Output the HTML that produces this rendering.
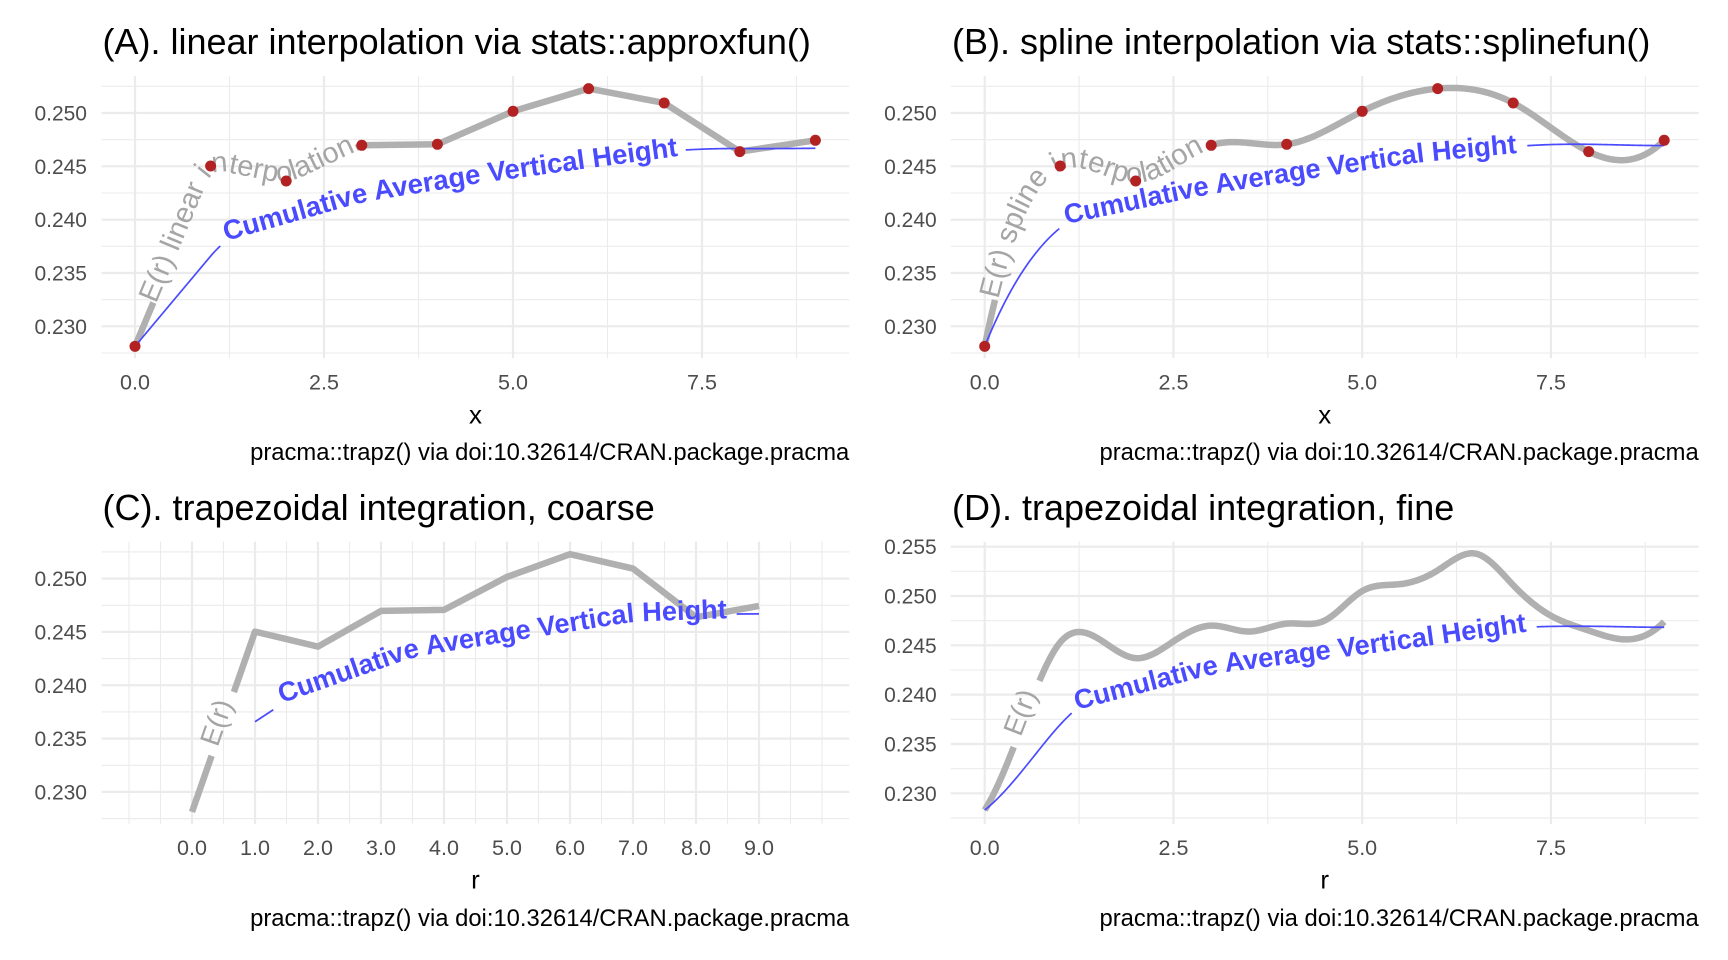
<!DOCTYPE html>
<html>
<head>
<meta charset="utf-8">
<style>
html,body{margin:0;padding:0;background:#ffffff;}
svg{display:block;}
svg text{font-family:"Liberation Sans", Arial, sans-serif;}
</style>
</head>
<body>
<svg id="s" width="1728" height="960" viewBox="0 0 1728 960" xmlns="http://www.w3.org/2000/svg" xmlns:xlink="http://www.w3.org/1999/xlink">
<rect x="0" y="0" width="1728" height="960" fill="#ffffff"/>
<defs>
  <path id="tpA1" d="M0 0 L1 0"/>
  <path id="tpA2" d="M0 0 L1 0"/>
  <path id="tpB1" d="M0 0 L1 0"/>
  <path id="tpB2" d="M0 0 L1 0"/>
  <path id="tpC1" d="M0 0 L1 0"/>
  <path id="tpC2" d="M0 0 L1 0"/>
  <path id="tpD1" d="M0 0 L1 0"/>
  <path id="tpD2" d="M0 0 L1 0"/>
</defs>
<g id="grid"></g>
<g id="lines"></g>
<g id="ptext">
  <text id="tA1" fill="#a5a5a5" font-size="28"><textPath href="#tpA1" xlink:href="#tpA1" startOffset="0">E(r) linear interpolation</textPath></text>
  <text id="tA2" fill="#4a4aff" font-weight="bold" font-size="27"><textPath href="#tpA2" xlink:href="#tpA2" startOffset="0">Cumulative Average Vertical Height</textPath></text>
  <text id="tB1" fill="#a5a5a5" font-size="28"><textPath href="#tpB1" xlink:href="#tpB1" startOffset="0">E(r) spline interpolation</textPath></text>
  <text id="tB2" fill="#4a4aff" font-weight="bold" font-size="27"><textPath href="#tpB2" xlink:href="#tpB2" startOffset="0">Cumulative Average Vertical Height</textPath></text>
  <text id="tC1" fill="#a5a5a5" font-size="28"><textPath href="#tpC1" xlink:href="#tpC1" startOffset="0">E(r)</textPath></text>
  <text id="tC2" fill="#4a4aff" font-weight="bold" font-size="27"><textPath href="#tpC2" xlink:href="#tpC2" startOffset="0">Cumulative Average Vertical Height</textPath></text>
  <text id="tD1" fill="#a5a5a5" font-size="28"><textPath href="#tpD1" xlink:href="#tpD1" startOffset="0">E(r)</textPath></text>
  <text id="tD2" fill="#4a4aff" font-weight="bold" font-size="27"><textPath href="#tpD2" xlink:href="#tpD2" startOffset="0">Cumulative Average Vertical Height</textPath></text>
</g>
<g id="pts"></g>

<!-- Titles -->
<g fill="#000000" font-size="36">
  <text x="102.5" y="54">(A). linear interpolation via stats::approxfun()</text>
  <text x="952" y="54">(B). spline interpolation via stats::splinefun()</text>
  <text x="102.5" y="520">(C). trapezoidal integration, coarse</text>
  <text x="952" y="520">(D). trapezoidal integration, fine</text>
</g>

<!-- Y tick labels -->
<g fill="#4d4d4d" font-size="21" text-anchor="end">
  <text x="87" y="120.5">0.250</text>
  <text x="87" y="173.8">0.245</text>
  <text x="87" y="227.2">0.240</text>
  <text x="87" y="280.5">0.235</text>
  <text x="87" y="333.8">0.230</text>

  <text x="936.7" y="120.5">0.250</text>
  <text x="936.7" y="173.8">0.245</text>
  <text x="936.7" y="227.2">0.240</text>
  <text x="936.7" y="280.5">0.235</text>
  <text x="936.7" y="333.8">0.230</text>

  <text x="87" y="586.1">0.250</text>
  <text x="87" y="639.4">0.245</text>
  <text x="87" y="692.8">0.240</text>
  <text x="87" y="746.1">0.235</text>
  <text x="87" y="799.4">0.230</text>

  <text x="936.7" y="554.2">0.255</text>
  <text x="936.7" y="603.5">0.250</text>
  <text x="936.7" y="652.8">0.245</text>
  <text x="936.7" y="702.2">0.240</text>
  <text x="936.7" y="751.5">0.235</text>
  <text x="936.7" y="800.8">0.230</text>
</g>

<!-- X tick labels -->
<g fill="#4d4d4d" font-size="21.5" text-anchor="middle">
  <text x="135" y="389.4">0.0</text>
  <text x="324" y="389.4">2.5</text>
  <text x="513" y="389.4">5.0</text>
  <text x="702" y="389.4">7.5</text>

  <text x="984.7" y="389.4">0.0</text>
  <text x="1173.5" y="389.4">2.5</text>
  <text x="1362.2" y="389.4">5.0</text>
  <text x="1551" y="389.4">7.5</text>

  <text x="192" y="855">0.0</text>
  <text x="255" y="855">1.0</text>
  <text x="318" y="855">2.0</text>
  <text x="381" y="855">3.0</text>
  <text x="444" y="855">4.0</text>
  <text x="507" y="855">5.0</text>
  <text x="570" y="855">6.0</text>
  <text x="633" y="855">7.0</text>
  <text x="696" y="855">8.0</text>
  <text x="759" y="855">9.0</text>

  <text x="984.7" y="855">0.0</text>
  <text x="1173.5" y="855">2.5</text>
  <text x="1362.2" y="855">5.0</text>
  <text x="1551" y="855">7.5</text>
</g>

<!-- Axis titles -->
<g fill="#000000" font-size="26" text-anchor="middle">
  <text x="475.5" y="423.3">x</text>
  <text x="1324.7" y="423.3">x</text>
  <text x="475.5" y="888.5">r</text>
  <text x="1324.7" y="888.5">r</text>
</g>

<!-- Captions -->
<g fill="#000000" font-size="23.8" text-anchor="end">
  <text x="849.3" y="460">pracma::trapz() via doi:10.32614/CRAN.package.pracma</text>
  <text x="1698.7" y="460">pracma::trapz() via doi:10.32614/CRAN.package.pracma</text>
  <text x="849.3" y="926">pracma::trapz() via doi:10.32614/CRAN.package.pracma</text>
  <text x="1698.7" y="926">pracma::trapz() via doi:10.32614/CRAN.package.pracma</text>
</g>
</svg>

<script>
(function(){
const NS='http://www.w3.org/2000/svg';
const svg=document.getElementById('s');
function el(tag,a,par){const e=document.createElementNS(NS,tag);for(const k in a)e.setAttribute(k,a[k]);(par||svg).appendChild(e);return e;}
const GRAY='#b0b0b0', BLUE='#4a4aff', RED='#b22222';

const A={x0:101.7,x1:849.3,y0:76,y1:358.3,X:v=>135+75.6*v,Y:v=>113+(0.25-v)*10666.7};
const B={x0:950.7,x1:1698.7,y0:76,y1:358.3,X:v=>984.7+75.5*v,Y:v=>113+(0.25-v)*10666.7};
const C={x0:101.7,x1:849.3,y0:541.7,y1:824,X:v=>192+63*v,Y:v=>578.6+(0.25-v)*10666.7};
const D={x0:950.7,x1:1698.7,y0:541.7,y1:824,X:v=>984.7+75.5*v,Y:v=>596+(0.25-v)*9866};

/* ---------- grid ---------- */
const gG=document.getElementById('grid');
function gl(x1,y1,x2,y2,w){el('line',{x1:x1,y1:y1,x2:x2,y2:y2,stroke:'#ebebeb','stroke-width':w},gG);}
function grid(P,hMaj,hMin,vMaj,vMin){
  hMin.forEach(v=>gl(P.x0,P.Y(v),P.x1,P.Y(v),1.1));
  vMin.forEach(v=>gl(P.X(v),P.y0,P.X(v),P.y1,1.1));
  hMaj.forEach(v=>gl(P.x0,P.Y(v),P.x1,P.Y(v),2.2));
  vMaj.forEach(v=>gl(P.X(v),P.y0,P.X(v),P.y1,2.2));
}
const hMaj=[0.23,0.235,0.24,0.245,0.25], hMin=[0.2275,0.2325,0.2375,0.2425,0.2475,0.2525];
const vMaj=[0,2.5,5,7.5], vMin=[1.25,3.75,6.25,8.75];
grid(A,hMaj,hMin,vMaj,vMin);
grid(B,hMaj,hMin,vMaj,vMin);
const cMaj=[],cMin=[-1,10];
for(let i=0;i<=9;i++){cMaj.push(i);}
for(let i=-1;i<=9;i++){cMin.push(i+0.5);}
grid(C,hMaj,hMin,cMaj,cMin);
grid(D,[0.23,0.235,0.24,0.245,0.25,0.255],hMin,vMaj,vMin);

/* ---------- spline (R fmm) ---------- */
function fmm(x,y){
  const n=x.length,nm1=n-1;
  const b=new Array(n).fill(0),c=new Array(n).fill(0),d=new Array(n).fill(0);
  d[0]=x[1]-x[0];
  c[1]=(y[1]-y[0])/d[0];
  for(let i=1;i<nm1;i++){
    d[i]=x[i+1]-x[i];
    b[i]=2*(d[i-1]+d[i]);
    c[i+1]=(y[i+1]-y[i])/d[i];
    c[i]=c[i+1]-c[i];
  }
  b[0]=-d[0]; b[nm1]=-d[n-2]; c[0]=0; c[nm1]=0;
  if(n>3){
    c[0]=c[2]/(x[3]-x[1])-c[1]/(x[2]-x[0]);
    c[nm1]=c[n-2]/(x[nm1]-x[n-3])-c[n-3]/(x[n-2]-x[n-4]);
    c[0]=c[0]*d[0]*d[0]/(x[3]-x[0]);
    c[nm1]=-c[nm1]*d[n-2]*d[n-2]/(x[nm1]-x[n-4]);
  }
  for(let i=1;i<n;i++){
    const t=d[i-1]/b[i-1];
    b[i]=b[i]-t*d[i-1];
    c[i]=c[i]-t*c[i-1];
  }
  c[nm1]=c[nm1]/b[nm1];
  for(let i=n-2;i>=0;i--) c[i]=(c[i]-d[i]*c[i+1])/b[i];
  b[nm1]=(y[nm1]-y[n-2])/d[n-2]+d[n-2]*(c[n-2]+2*c[nm1]);
  for(let i=0;i<nm1;i++){
    b[i]=(y[i+1]-y[i])/d[i]-d[i]*(c[i+1]+2*c[i]);
    d[i]=(c[i+1]-c[i])/d[i];
    c[i]=3*c[i];
  }
  c[nm1]=3*c[nm1]; d[nm1]=d[n-2];
  return function(u){
    let i=0; while(i<n-1 && u>=x[i+1]) i++;
    if(i>n-2) i=n-2;
    const dx=u-x[i];
    return y[i]+dx*(b[i]+dx*(c[i]+dx*d[i]));
  };
}

/* ---------- geometry helpers ---------- */
function cum(poly){const s=[0];for(let i=1;i<poly.length;i++){s.push(s[i-1]+Math.hypot(poly[i][0]-poly[i-1][0],poly[i][1]-poly[i-1][1]));}return s;}
function at(poly,S,s){
  const L=S[S.length-1];
  if(s<=0) return poly[0].slice();
  if(s>=L) return poly[poly.length-1].slice();
  let i=1; while(S[i]<s) i++;
  const den=(S[i]-S[i-1])||1;
  const t=(s-S[i-1])/den;
  return [poly[i-1][0]+t*(poly[i][0]-poly[i-1][0]),poly[i-1][1]+t*(poly[i][1]-poly[i-1][1])];
}
function atX(poly,S,s){
  const L=S[S.length-1],n=poly.length;
  if(s<0){let j=1;while(j<n-1&&S[j]<1)j++;const a=poly[0],b=poly[j],l=S[j]||1;return [a[0]+(b[0]-a[0])*s/l,a[1]+(b[1]-a[1])*s/l];}
  if(s>L){let j=n-2;while(j>0&&L-S[j]<1)j--;const a=poly[j],b=poly[n-1],l=(L-S[j])||1;return [b[0]+(b[0]-a[0])*(s-L)/l,b[1]+(b[1]-a[1])*(s-L)/l];}
  return at(poly,S,s);
}
function sub(poly,S,s1,s2){
  const out=[at(poly,S,s1)];
  for(let i=0;i<poly.length;i++){if(S[i]>s1&&S[i]<s2) out.push(poly[i]);}
  out.push(at(poly,S,s2));
  return out;
}
function nearestS(poly,S,pt){
  let best=1e9,bs=0;const L=S[S.length-1];
  for(let s=0;s<=L;s+=0.5){const p=at(poly,S,s);const d=Math.hypot(p[0]-pt[0],p[1]-pt[1]);if(d<best){best=d;bs=s;}}
  return bs;
}
function smooth(pts,k){
  const out=[];const n=pts.length;
  for(let i=0;i<n;i++){
    const kk=Math.min(k,i,n-1-i);
    let sx=0,sy=0,m=0;
    for(let j=i-kk;j<=i+kk;j++){sx+=pts[j][0];sy+=pts[j][1];m++;}
    out.push([sx/m,sy/m]);
  }
  return out;
}
function offset(pts,d){
  return pts.map((p,i)=>{
    const a=pts[Math.max(0,i-1)],b=pts[Math.min(pts.length-1,i+1)];
    const dx=b[0]-a[0],dy=b[1]-a[1];const l=Math.hypot(dx,dy)||1;
    return [p[0]-dy/l*d,p[1]+dx/l*d];
  });
}
function pathD(pts){return 'M'+pts.map(p=>p[0].toFixed(2)+' '+p[1].toFixed(2)).join(' L');}
function clipX(poly,xa,xb){
  const out=[];
  for(let i=0;i<poly.length;i++){
    const p=poly[i];
    if(i>0){const q=poly[i-1];
      [xa,xb].forEach(xc=>{if(q[0]<xc&&p[0]>xc){const t=(xc-q[0])/(p[0]-q[0]);out.push([xc,q[1]+t*(p[1]-q[1])]);}});
    }
    if(p[0]>=xa&&p[0]<=xb) out.push(p);
  }
  return out;
}
function measure(str,fs,weight){
  const t=el('text',{x:0,y:-200,'font-size':fs,'font-weight':weight||'normal'});
  t.textContent=str;const w=t.getComputedTextLength();svg.removeChild(t);return w;
}

const gL=document.getElementById('lines');
function drawPoly(pts,stroke,w){
  if(pts.length<2) return;
  el('path',{d:pathD(pts),fill:'none',stroke:stroke,'stroke-width':w,'stroke-linejoin':'round','stroke-linecap':'butt'},gL);
}

function grayWithText(poly,sp,ep,tid,pid,o){
  const S=cum(poly),L=S[S.length-1];
  const s1=nearestS(poly,S,sp),s2=nearestS(poly,S,ep);
  drawPoly(sub(poly,S,0,s1),GRAY,6.5);
  drawPoly(sub(poly,S,s2,L),GRAY,6.5);
  const ext=30;
  let pts=[];
  for(let s=s1-ext;s<=s2+ext;s+=2) pts.push(atX(poly,S,s));
  pts=smooth(pts,o.k||8);
  pts=offset(pts,o.off==null?3:o.off);
  const p=document.getElementById(pid);p.setAttribute('d',pathD(pts));
  const t=document.getElementById(tid),tp=t.querySelector('textPath');
  const w100=measure(tp.textContent,100,'normal');
  let fs=(s2-s1-2*o.pad)/(w100/100);fs=Math.max(o.min,Math.min(o.max,fs));
  t.setAttribute('font-size',fs.toFixed(2));
  const tl=w100*fs/100;
  let plen=(s2-s1+2*ext);
  try{plen=p.getTotalLength();}catch(e){}
  const scale=plen/(s2-s1+2*ext);
  const mid=(ext+(s2-s1)/2)*scale;
  tp.setAttribute('startOffset',(mid-tl/2).toFixed(2));
}

function handText(pin,tid,pid){
  const S=cum(pin),L=S[S.length-1],ext=20;
  let pts=[];
  for(let s=-ext;s<=L+ext;s+=2) pts.push(atX(pin,S,s));
  pts=smooth(pts,8);
  const p=document.getElementById(pid);p.setAttribute('d',pathD(pts));
  const t=document.getElementById(tid),tp=t.querySelector('textPath');
  const w100=measure(tp.textContent,100,'bold');
  const fs=L/(w100/100);
  t.setAttribute('font-size',fs.toFixed(2));
  tp.setAttribute('startOffset',ext.toFixed(1));
}

function dense(f,P,h){const pts=[];const N=Math.round(9/h);for(let k=0;k<=N;k++){const u=k*h;pts.push([P.X(u),P.Y(f(u))]);}return pts;}
function cumavgPts(f,P){
  const pts=[[P.X(0),P.Y(f(0))]];let I=0;const h=0.002;const N=Math.round(9/h);
  for(let k=1;k<=N;k++){const r0=(k-1)*h,r1=k*h;I+=(f(r0)+f(r1))/2*h;if(k%10===0) pts.push([P.X(r1),P.Y(I/r1)]);}
  return pts;
}

/* ---------- data ---------- */
const xs=[0,1,2,3,4,5,6,7,8,9];
const ys=[0.228126,0.245031,0.243625,0.246972,0.247065,0.250159,0.252288,0.250938,0.246381,0.247440];
function lin(u){let i=Math.min(8,Math.max(0,Math.floor(u)));const t=u-i;return ys[i]+t*(ys[i+1]-ys[i]);}
const spl=fmm(xs,ys);
const fx=[],fy=[0.2283,0.2370,0.2453,0.2457,0.2437,0.2454,0.2470,0.2464,0.2472,0.2475,0.2505,0.2512,0.2526,0.2543,0.2511,0.2480,0.2465,0.2456,0.2474];
for(let i=0;i<19;i++) fx.push(i*0.5);
const splD=fmm(fx,fy);

/* ---------- panel A ---------- */
const grayA=xs.map((x,i)=>[A.X(x),A.Y(ys[i])]);
grayWithText(grayA,[155,303],[356,148],'tA1','tpA1',{pad:5,min:22,max:29.5});
const blueA=cumavgPts(lin,A);
drawPoly(clipX(blueA,-1e9,220.3),BLUE,1.7);
drawPoly(clipX(blueA,685.7,1e9),BLUE,1.7);
handText([[226,241],[363,202],[487,182],[678,156]],'tA2','tpA2');

/* ---------- panel B ---------- */
const grayB=dense(spl,B,0.02);
grayWithText(grayB,[995,300],[1207,147],'tB1','tpB1',{pad:5,min:22,max:29.5});
const blueB=cumavgPts(spl,B);
drawPoly(clipX(blueB,-1e9,1059.3),BLUE,1.7);
drawPoly(clipX(blueB,1527.3,1e9),BLUE,1.7);
handText([[1066,224],[1205,195],[1320,177],[1422,162],[1517,153]],'tB2','tpB2');

/* ---------- panel C ---------- */
const grayC=xs.map((x,i)=>[C.X(x),C.Y(ys[i])]);
grayWithText(grayC,[210,755],[233.3,691.7],'tC1','tpC1',{pad:5,min:28,max:28});
const blueC=[];let I=0;
for(let r=1;r<=9;r++){I+=(ys[r-1]+ys[r])/2;blueC.push([C.X(r),C.Y(I/r)]);}
drawPoly(clipX(blueC,-1e9,273.3),BLUE,1.7);
drawPoly(clipX(blueC,736.7,1e9),BLUE,1.7);
handText([[281.7,703.3],[415,656.7],[538.3,636.7],[633.3,621.7],[726.7,618.3]],'tC2','tpC2');

/* ---------- panel D ---------- */
const grayD=dense(splD,D,0.02);
grayWithText(grayD,[1013.3,746.7],[1041.7,681.7],'tD1','tpD1',{pad:5,min:28,max:28});
const blueD=cumavgPts(splD,D);
drawPoly(clipX(blueD,-1e9,1071.7),BLUE,1.7);
drawPoly(clipX(blueD,1536.7,1e9),BLUE,1.7);
handText([[1076.7,710],[1216.7,673.3],[1340,657.5],[1433.3,645],[1526.7,631.7]],'tD2','tpD2');

/* ---------- points ---------- */
const gP=document.getElementById('pts');
xs.forEach((x,i)=>{
  el('circle',{cx:A.X(x).toFixed(2),cy:A.Y(ys[i]).toFixed(2),r:5.5,fill:RED},gP);
  el('circle',{cx:B.X(x).toFixed(2),cy:B.Y(ys[i]).toFixed(2),r:5.5,fill:RED},gP);
});
})();
</script>
</body>
</html>
